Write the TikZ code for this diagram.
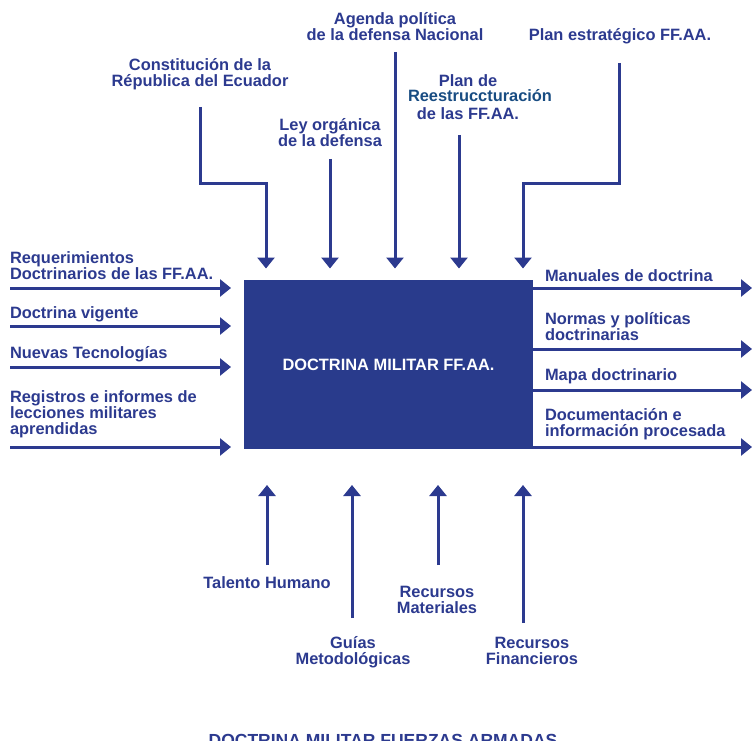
\documentclass[tikz,border=0pt]{standalone}
\usepackage{fontspec}
\setmainfont{Liberation Sans}
\usetikzlibrary{arrows.meta}
\definecolor{navy}{RGB}{44,58,143}
\definecolor{boxblue}{RGB}{41,59,140}
\definecolor{reblue}{RGB}{24,76,130}
\begin{document}
\begin{tikzpicture}[x=1pt,y=-1pt,
  lbl/.style={font=\bfseries\fontsize{16.4}{16}\selectfont, text=navy, inner sep=0pt, outer sep=0pt, align=left, anchor=base west},
  clbl/.style={lbl, align=center, anchor=base},
  flow/.style={draw=navy, line width=3pt, line join=miter, -{Triangle[width=17pt,length=11pt]}}]
\useasboundingbox (0,0) rectangle (753,741);

% central box
\node[fill=boxblue, minimum width=289pt, minimum height=169pt, inner sep=0pt,
      text=white, font=\bfseries\fontsize{16.4}{16}\selectfont] (box) at (388.5,364.5) {DOCTRINA MILITAR FF.AA.};

% ---------- top (controls) ----------
% (multi-line nodes: base anchor = baseline of the last line)
\node[clbl] (cons) at (200,87) {Constitución de la\\Républica del Ecuador};
\node[clbl] (ley) at (330,147) {Ley orgánica\\de la defensa};
\node[clbl] (agenda) at (395,41) {Agenda política\\de la defensa Nacional};
\node[clbl] (plan) at (468,120) {Plan de\\[-1pt]\hspace*{24pt}\textcolor{reblue}{Reestruccturación}\\[2pt]de las FF.AA.};
\node[clbl] (estrat) at (620,41) {Plan estratégico FF.AA.};

\coordinate (cons-s) at (200,107);
\coordinate (cons-e) at (266,268.5);
\coordinate (ley-s) at (330,159);
\coordinate (ley-e) at (330,268.5);
\coordinate (agenda-s) at (395,52);
\coordinate (agenda-e) at (395,268.5);
\coordinate (plan-s) at (459,135);
\coordinate (plan-e) at (459,268.5);
\coordinate (estrat-s) at (619,63);
\coordinate (estrat-e) at (523,268.5);

\draw[flow] (cons-s) |- (266,184) -- (cons-e);
\draw[flow] (ley-s) -- (ley-e);
\draw[flow] (agenda-s) -- (agenda-e);
\draw[flow] (plan-s) -- (plan-e);
\draw[flow] (estrat-s) |- (523,184) -- (estrat-e);

% ---------- left (inputs) ----------
\node[lbl] (req) at (10,279) {Requerimientos\\Doctrinarios de las FF.AA.};
\node[lbl] (vig) at (10,318) {Doctrina vigente};
\node[lbl] (tec) at (10,358) {Nuevas Tecnologías};
\node[lbl] (reg) at (10,434) {Registros e informes de\\lecciones militares\\aprendidas};

\foreach \n/\y in {req/288, vig/326, tec/367, reg/447}{
  \coordinate (\n-s) at (10,\y);
  \coordinate (\n-e) at (231,\y);
  \draw[flow] (\n-s) -- (\n-e);
}

% ---------- right (outputs) ----------
\node[lbl] (man) at (545,281) {Manuales de doctrina};
\node[lbl] (nor) at (545,340) {Normas y políticas\\doctrinarias};
\node[lbl] (map) at (545,380) {Mapa doctrinario};
\node[lbl] (doc) at (545,436) {Documentación e\\información procesada};

\foreach \n/\y in {man/288, nor/349, map/390, doc/447}{
  \coordinate (\n-s) at (533,\y);
  \coordinate (\n-e) at (752,\y);
  \draw[flow] (\n-s) -- (\n-e);
}

% ---------- bottom (mechanisms) ----------
\node[clbl] (tal) at (267,588) {Talento Humano};
\node[clbl] (gui) at (353,664) {Guías\\Metodológicas};
\node[clbl] (mat) at (437,613) {Recursos\\Materiales};
\node[clbl] (fin) at (532,664) {Recursos\\Financieros};

\coordinate (tal-s) at (267,565);
\coordinate (tal-e) at (267,485);
\coordinate (gui-s) at (352,618);
\coordinate (gui-e) at (352,485);
\coordinate (mat-s) at (438,565);
\coordinate (mat-e) at (438,485);
\coordinate (fin-s) at (523,623);
\coordinate (fin-e) at (523,485);
\draw[flow] (tal-s) -- (tal-e);
\draw[flow] (gui-s) -- (gui-e);
\draw[flow] (mat-s) -- (mat-e);
\draw[flow] (fin-s) -- (fin-e);

% ---------- title ----------
\node[clbl, font=\bfseries\fontsize{17.5}{18}\selectfont] (title) at (383,746) {DOCTRINA MILITAR FUERZAS ARMADAS};
\end{tikzpicture}
\end{document}
